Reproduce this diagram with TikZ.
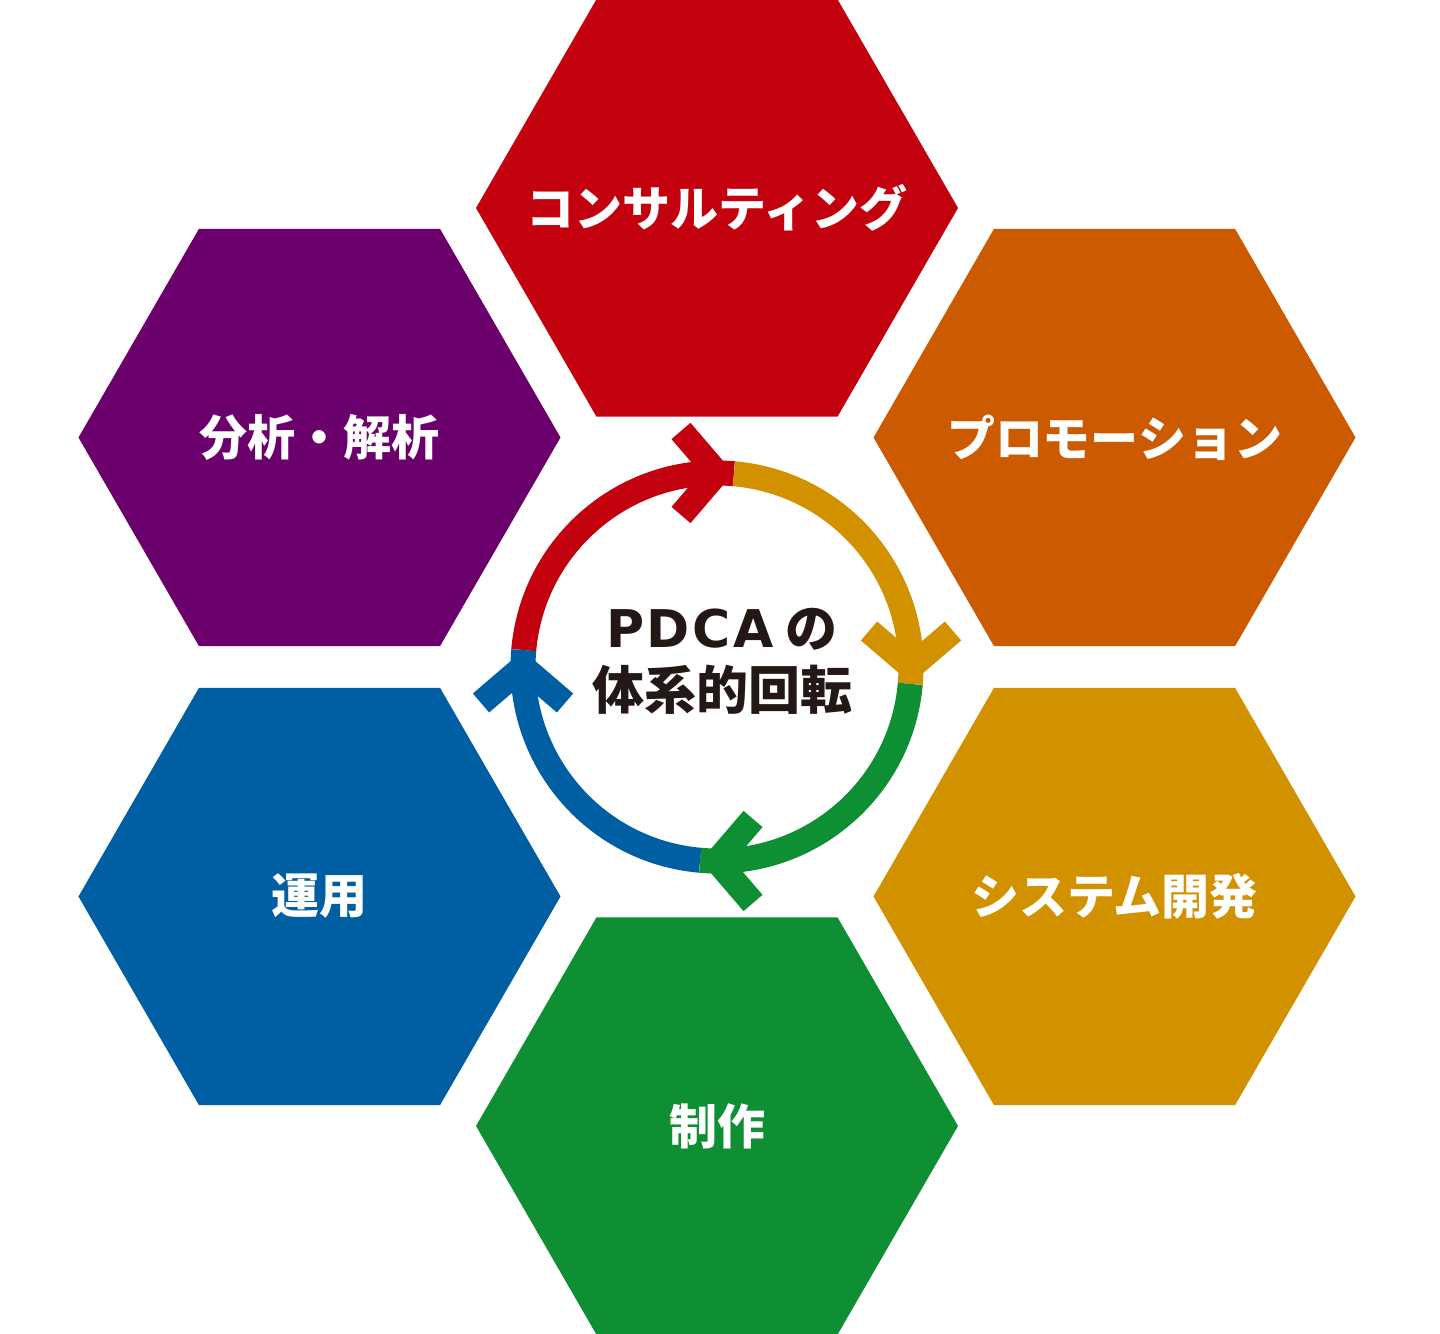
\documentclass[tikz,border=0pt]{standalone}
\usepackage{fontspec}
\setmainfont{Noto Sans CJK JP}[BoldFont={* Black}]
\newfontfamily\latinfont{DejaVu Sans}[LetterSpace=5]
\usetikzlibrary{shapes.geometric}
\definecolor{hexred}{HTML}{C3000D}
\definecolor{hexorange}{HTML}{CB5A00}
\definecolor{hexgold}{HTML}{D29200}
\definecolor{hexgreen}{HTML}{0F8F33}
\definecolor{hexblue}{HTML}{005EA3}
\definecolor{hexpurple}{HTML}{6B006C}
\definecolor{inkdark}{HTML}{231815}

\begin{document}
\begin{tikzpicture}[x=0.5pt,y=0.5pt,hexa/.style={regular polygon,regular polygon sides=6,minimum size=241pt,inner sep=0pt},hexlabel/.style={text=white,font=\fontsize{24}{28}\selectfont\bfseries},ring/.style={line width=12.5pt},chev/.style={line width=12.5pt,line join=miter,line cap=butt}]
\useasboundingbox (0,0) rectangle (1440,1333);
\coordinate (ctr) at (717,666);
\node[hexa,fill=hexred,label={[hexlabel]center:コンサルティング}] (consult) at ([shift={(90:459)}]ctr) {};
\node[hexa,fill=hexorange,label={[hexlabel]center:プロモーション}] (promo) at ([shift={(30:459)}]ctr) {};
\node[hexa,fill=hexgold,label={[hexlabel]center:システム開発}] (sysdev) at ([shift={(-30:459)}]ctr) {};
\node[hexa,fill=hexgreen,label={[hexlabel]center:制作}] (seisaku) at ([shift={(-90:459)}]ctr) {};
\node[hexa,fill=hexblue,label={[hexlabel]center:運用}] (unyou) at ([shift={(210:459)}]ctr) {};
\node[hexa,fill=hexpurple,label={[hexlabel]center:分析・解析}] (bunseki) at ([shift={(150:459)}]ctr) {};
\node[align=center,text=inkdark,font=\fontsize{26}{31}\selectfont\bfseries] (pdca) at (722,672) {{\latinfont\bfseries PDCA} の\\体系的回転};
\foreach \a/\b/\c in {175/85/hexred,85/-5/hexgold,-5/-95/hexgreen,265/175/hexblue}
  \draw[ring,\c] ([shift={(\a:194)}]ctr) arc[start angle=\a,end angle=\b,radius=194];
\foreach \t/\c in {90/hexred,0/hexgold,270/hexgreen,180/hexblue}
  \draw[chev,\c,shift={(ctr)},shift={(\t:194)},rotate=\t-90] (-36,42) -- (0,0) -- (-36,-42);
\end{tikzpicture}
\end{document}
